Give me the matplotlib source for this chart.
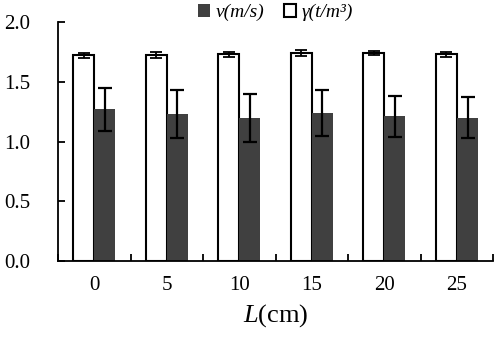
import numpy as np
import matplotlib.pyplot as plt

plt.rcParams['font.family'] = ['Liberation Serif', 'DejaVu Serif']
plt.rcParams['mathtext.fontset'] = 'custom'
plt.rcParams['mathtext.it'] = 'Liberation Serif:italic'
plt.rcParams['mathtext.rm'] = 'Liberation Serif'

categories = ['0', '5', '10', '15', '20', '25']
v_mean = [1.27, 1.23, 1.20, 1.24, 1.21, 1.20]
v_err = [0.18, 0.20, 0.20, 0.19, 0.17, 0.17]
gamma_mean = [1.72, 1.72, 1.73, 1.74, 1.74, 1.73]
gamma_err = [0.02, 0.025, 0.02, 0.025, 0.02, 0.02]

fig = plt.figure(figsize=(4.98, 3.44), dpi=100)
ax = fig.add_axes([0.1165, 0.241, 0.874, 0.695])

x = np.arange(len(categories))
w = 0.29

ax.bar(x - w / 2, gamma_mean, w, color='white', edgecolor='black', linewidth=1.5,
       yerr=gamma_err, capsize=4, error_kw=dict(elinewidth=1.3, capthick=1.3, ecolor='black'),
       label='γ(t/m³)', zorder=2)
ax.bar(x + w / 2, v_mean, w, color='#404040', edgecolor='none',
       yerr=v_err, capsize=5, error_kw=dict(elinewidth=1.6, capthick=1.6, ecolor='black'),
       label='v(m/s)', zorder=2)

ax.set_xlim(-0.5, len(categories) - 0.5)
ax.set_ylim(0, 2.0)
ax.set_yticks([0, 0.5, 1.0, 1.5, 2.0])
ax.set_yticklabels(['0.0', '0.5', '1.0', '1.5', '2.0'])
ax.set_xticks(x)
ax.set_xticklabels(categories)
ax.set_xticks(np.arange(-0.5, len(categories)), minor=True)

for s in ['top', 'right']:
    ax.spines[s].set_visible(False)
ax.spines['left'].set_linewidth(1.3)
ax.spines['bottom'].set_linewidth(1.3)

ax.tick_params(axis='y', direction='in', length=5, width=1.3, pad=20, labelsize=15)
ax.tick_params(axis='x', which='major', length=0, pad=11, labelsize=15)
ax.tick_params(axis='x', which='minor', direction='in', length=5, width=1.3)

ax.set_xlabel('$L$(cm)', fontsize=19, labelpad=5)

handles, labels = ax.get_legend_handles_labels()
leg = ax.legend(handles[::-1], ['v(m/s)', 'γ(t/m³)'], loc='lower center',
                bbox_to_anchor=(0.5, 0.97), ncol=2, frameon=False,
                prop={'family': 'Liberation Serif', 'style': 'italic', 'size': 14},
                handlelength=0.6, handleheight=0.6, handletextpad=0.3, columnspacing=1.0,
                borderaxespad=0)

plt.savefig('out.png', dpi=100)
